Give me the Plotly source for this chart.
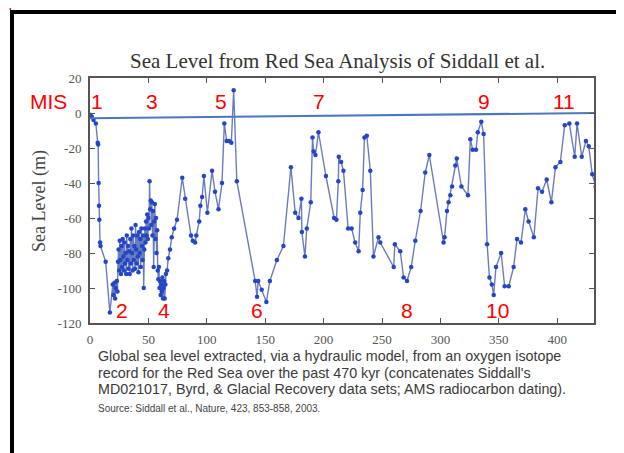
import plotly.graph_objects as go

# ---------------- data ----------------
age_kyr = [0, 1.5, 3, 5, 6.6, 7, 7.4, 7.7, 8, 8.6, 9, 13.4, 17,
           19.5, 20, 21, 21.5, 22, 23, 23.5, 24, 24.5, 25, 25.5, 26, 26.5, 27, 27.5, 28, 28.5, 29, 29.5,
           30, 30.5, 31, 31.5, 32, 32.5, 33, 33.5, 34, 34.5, 35, 35.5, 36, 36.5, 37, 37.5, 38, 38.5,
           39, 39.5, 40, 40.5, 41, 41.5, 42, 42.5, 43, 43.5, 44, 44.5, 45, 45.5, 46, 46.5, 47, 47.5,
           48, 48.5, 49, 49.5, 50, 50.5, 51, 51.5, 52, 52.5, 53, 53.5, 54, 54.5, 55, 55.5, 56, 56.5,
           57, 57.5, 58, 58.5, 59, 59.5, 60, 60.5, 61, 61.5, 62, 62.5, 63, 63.5, 64, 64.5, 65, 66,
           67, 68.5, 70, 72, 74.5, 79, 81.5, 86.5, 88, 90, 91, 93.5, 94.5, 96, 97.5, 100.5, 104.5, 107,
           110, 113, 115, 117, 119, 121, 123, 125.7, 141.4, 143, 144, 147, 151, 154, 160, 165.6, 172,
           175.7, 178.5, 181, 181.4, 184, 185.6, 189, 190.5, 191.5, 193, 195.6, 202, 209, 211, 212.6,
           213, 215, 217, 221, 224, 227, 230, 231.4, 233.4, 235, 237, 240, 242.7, 247, 248.5, 260,
           261, 265.6, 268.5, 271.4, 275, 278.5, 283, 287, 290.5, 302.7, 303.6, 305.6, 307, 308.5,
           310, 312.8, 314, 318, 323.6, 325.6, 327.6, 330.5, 332, 335, 337, 340, 342, 344, 345.6,
           347.6, 352, 355, 358.5, 362.7, 365.6, 369, 372.7, 375.5, 380, 383.6, 387, 391, 395, 398.5,
           402.7, 406.4, 410.4, 415, 417, 421, 424.6, 427, 430, 433]
sea_level_m = [-1, -2, -4, -6, -17, -18, -40, -53, -61, -74, -76, -85, -114,
               -98, -104, -97, -106, -100, -96, -102, -85, -78, -90, -73, -84, -92, -76, -88, -72, -82, -90, -74,
               -86, -80, -92, -70, -84, -76, -89, -79, -92, -72, -86, -66, -80, -90, -70, -84, -76, -89,
               -64, -78, -86, -70, -82, -91, -68, -80, -72, -88, -66, -76, -84, -70, -100, -78, -66, -74,
               -62, -70, -58, -72, -60, -66, -39, -55, -50, -64, -51, -70, -56, -88, -62, -52, -72, -60,
               -80, -67, -90, -95, -88, -100, -96, -104, -98, -102, -94, -106, -100, -96, -106, -98, -92, -90,
               -83, -78, -71, -66, -61, -37, -49, -70, -73, -74, -70, -62, -53, -48, -36, -57, -33, -45,
               -55, -40, -6, -16, -16, -17, 13, -39, -96, -105, -96, -101, -108, -96, -84, -76, -31,
               -57, -60, -49, -68, -82, -66, -51, -14, -22, -24, -11, -36, -60, -61, -39,
               -25, -28, -33, -66, -66, -74, -79, -57, -44, -14, -13, -33, -82, -71, -74, -88,
               -75, -79, -94, -96, -88, -73, -56, -34, -24, -74, -71, -56, -51, -47,
               -42, -30, -26, -42, -47, -15, -21, -21, -11, -5, -12, -75, -94, -98, -104,
               -88, -80, -99, -99, -88, -72, -74, -55, -62, -71, -43, -45, -38, -51, -31,
               -28, -7, -6, -25, -6, -25, -16, -19, -35, -42]

ref_line_age = [0, 431.5]
ref_line_level = [-3, 0]

x_ticks = [0, 50, 100, 150, 200, 250, 300, 350, 400]
y_ticks = [20, 0, -20, -40, -60, -80, -100, -120]
y_tick_text = ["20", "0", "-20", "-40", "-60", "-80", "-100", "-120"]

mis_top = ["1", "3", "5", "7", "9", "11"]
mis_top_age = [6, 53, 112, 196, 337, 406]
mis_bottom = ["2", "4", "6", "8", "10"]
mis_bottom_age = [27, 63, 143, 271, 349]

title_text = "Sea Level from Red Sea Analysis of Siddall et al."
y_title = "Sea Level (m)"
caption_lines = [
    "Global sea level extracted, via a hydraulic model, from an oxygen isotope",
    "record for the Red Sea over the past 470 kyr (concatenates Siddall's",
    "MD021017, Byrd, & Glacial Recovery data sets; AMS radiocarbon dating).",
]
source_text = "Source: Siddall et al., Nature, 423, 853-858, 2003."

# ---------------- layout helpers (reference pixel -> paper) ----------------
OFF = 8  # page body margin in the browser
W, H = 624, 453
L, R, T, B = 90, 594, 78, 323
def px(x):
    return (x - L) / (R - L)
def py(y):
    return (B - y) / (B - T)

fig = go.Figure()
fig.add_trace(go.Scatter(
    x=age_kyr, y=sea_level_m, mode="lines+markers",
    line=dict(color="#6a7cbf", width=1.4),
    marker=dict(color="#2446c4", size=4.5),
    showlegend=False, cliponaxis=True,
))
fig.add_trace(go.Scatter(
    x=ref_line_age, y=ref_line_level, mode="lines",
    line=dict(color="#4a78c0", width=2), showlegend=False,
))

serif = "Liberation Serif, Times New Roman, serif"
sans = "Liberation Sans, Arial, sans-serif"

def note(text, x, y, xref="paper", size=12, color="#333", family=sans, xanchor="center", angle=0):
    return dict(text=text, x=x, y=y, xref=xref, yref="paper", xanchor=xanchor, yanchor="middle",
                textangle=angle, showarrow=False, font=dict(family=family, size=size, color=color))

ann = []
ann.append(note(title_text, px(337), py(61), size=21, color="#333333", family=serif))
ann.append(note(y_title, px(39), py(201), size=18, color="#444444", family=serif, angle=-90))
for i, line in enumerate(caption_lines):
    ann.append(note(line, px(96), py(356 + 16.5 * i), size=14.3, color="#3a3a3a", xanchor="left"))
ann.append(note(source_text, px(96), py(408), size=10, color="#444444", xanchor="left"))
red = "#ff0000"
ann.append(note("MIS", px(48), py(101), size=21, color=red))
for lab, a in zip(mis_top, mis_top_age):
    ann.append(note(lab, a, py(101), xref="x", size=21, color=red))
for lab, a in zip(mis_bottom, mis_bottom_age):
    ann.append(note(lab, a, py(310), xref="x", size=21, color=red))

shapes = [
    dict(type="line", xref="paper", yref="paper", x0=px(12), x1=px(12), y0=py(10), y1=py(470),
         line=dict(color="black", width=4)),
    dict(type="line", xref="paper", yref="paper", x0=px(10), x1=px(630), y0=py(12), y1=py(12),
         line=dict(color="black", width=4)),
    dict(type="line", xref="paper", yref="paper", x0=px(13), x1=px(10), y0=py(0), y1=py(10),
         line=dict(color="#e02020", width=1.5)),
    dict(type="line", xref="paper", yref="paper", x0=px(614), x1=px(624), y0=py(0), y1=py(9),
         line=dict(color="#e06060", width=1, dash="dot")),
]

axis_common = dict(showgrid=False, zeroline=False, showline=True, linecolor="#555555", linewidth=2,
                   mirror="ticks", ticks="inside", ticklen=5, tickcolor="#555555", automargin=False,
                   tickfont=dict(family=serif, size=13, color="#555555"))
fig.update_layout(
    width=W - OFF, height=H - OFF,
    margin=dict(l=L - OFF, r=W - R, t=T - OFF, b=H - B, autoexpand=False),
    paper_bgcolor="white", plot_bgcolor="white",
    xaxis=dict(range=[0, 431.5], tickvals=x_ticks, ticklabelstandoff=3, **axis_common),
    yaxis=dict(range=[-120, 20], tickvals=y_ticks, ticktext=y_tick_text, ticklabelstandoff=4, **axis_common),
    annotations=ann, shapes=shapes,
)
fig.write_html("out.html")
